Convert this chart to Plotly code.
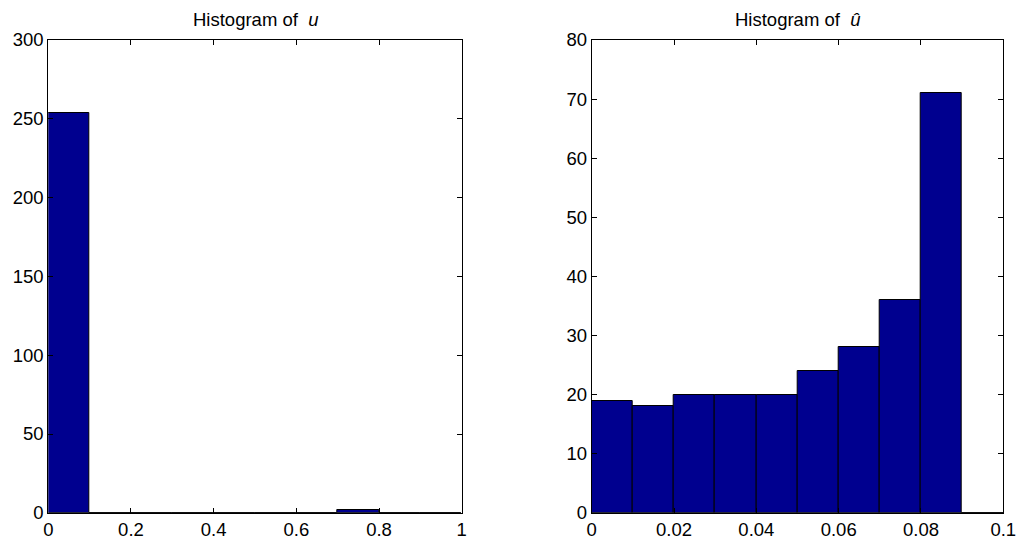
import plotly.graph_objects as go

# Left histogram: u
u_edges = [0.0, 0.1, 0.2, 0.3, 0.4, 0.5, 0.6, 0.7, 0.8, 0.9, 1.0]
u_counts = [254, 0, 0, 0, 0, 0, 0, 2, 0, 0]

# Right histogram: u-hat
uh_edges = [0.0, 0.01, 0.02, 0.03, 0.04, 0.05, 0.06, 0.07, 0.08, 0.09, 0.10]
uh_counts = [19, 18, 20, 20, 20, 24, 28, 36, 71, 0]

u_xticks = [0, 0.2, 0.4, 0.6, 0.8, 1]
u_yticks = [0, 50, 100, 150, 200, 250, 300]
uh_xticks = [0, 0.02, 0.04, 0.06, 0.08, 0.1]
uh_yticks = [0, 10, 20, 30, 40, 50, 60, 70, 80]

titles = ["Histogram of  <i>u</i>", "Histogram of  <i>û</i>"]

BAR = "#00008F"
FONT = "Liberation Sans, Arial, Helvetica, sans-serif"
FS = 18.5

def centers(e):
    return [(e[i] + e[i + 1]) / 2 for i in range(len(e) - 1)]

def widths(e):
    return [e[i + 1] - e[i] for i in range(len(e) - 1)]

fig = go.Figure()
fig.add_trace(go.Bar(x=centers(u_edges), y=u_counts, width=widths(u_edges),
                     marker=dict(color=BAR, line=dict(color="black", width=1)),
                     xaxis="x", yaxis="y", showlegend=False, hoverinfo="x+y"))
fig.add_trace(go.Bar(x=centers(uh_edges), y=uh_counts, width=widths(uh_edges),
                     marker=dict(color=BAR, line=dict(color="black", width=1)),
                     xaxis="x2", yaxis="y2", showlegend=False, hoverinfo="x+y"))

ax_common = dict(showline=True, linecolor="black", linewidth=1, mirror="allticks",
                 ticks="inside", ticklen=5, tickcolor="black", showgrid=False,
                 zeroline=False, automargin=False,
                 tickfont=dict(family=FONT, size=FS, color="black"))

y_dom = [1 - 512.8 / 542, 1 - 40 / 542]
fig.update_layout(
    width=1018, height=542,
    margin=dict(l=0, r=0, t=0, b=0),
    paper_bgcolor="white", plot_bgcolor="white",
    bargap=0,
    xaxis=dict(domain=[48.3 / 1018, 461.7 / 1018], range=[u_edges[0], u_edges[-1]],
               tickvals=u_xticks, anchor="y", **ax_common),
    yaxis=dict(domain=y_dom, range=[u_yticks[0], u_yticks[-1]], tickvals=u_yticks,
               anchor="x", **ax_common),
    xaxis2=dict(domain=[591.7 / 1018, 1003.3 / 1018], range=[uh_edges[0], uh_edges[-1]],
                tickvals=uh_xticks, ticktext=[f"{v:g}" for v in uh_xticks],
                anchor="y2", **ax_common),
    yaxis2=dict(domain=y_dom, range=[uh_yticks[0], uh_yticks[-1]], tickvals=uh_yticks,
                anchor="x2", **ax_common),
    annotations=[
        dict(text=titles[0], x=(48.3 + 461.7) / 2 / 1018, y=1 - 20 / 542,
             xref="paper", yref="paper", showarrow=False, xanchor="center", yanchor="middle",
             font=dict(family=FONT, size=FS, color="black")),
        dict(text=titles[1], x=(591.7 + 1003.3) / 2 / 1018, y=1 - 20 / 542,
             xref="paper", yref="paper", showarrow=False, xanchor="center", yanchor="middle",
             font=dict(family=FONT, size=FS, color="black")),
    ],
)

fig.write_html("out.html")
